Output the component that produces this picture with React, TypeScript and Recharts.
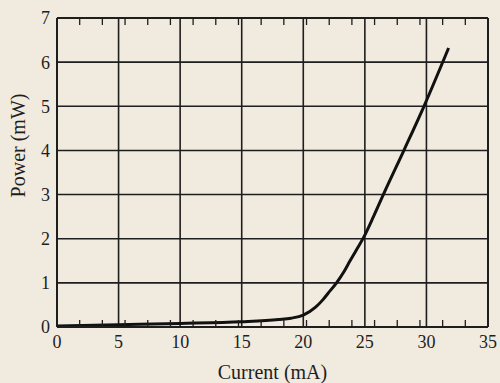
import { LineChart, Line, XAxis, YAxis, CartesianGrid, Label } from 'recharts';

const currentMA = [0, 5, 10, 15, 18, 19, 20, 21, 21.6, 22, 22.7, 23.3, 23.8, 24.3, 24.9, 25.7, 26.5, 28.2, 29.8, 31.8];
const powerMW = [0.02, 0.05, 0.08, 0.12, 0.17, 0.2, 0.27, 0.45, 0.62, 0.76, 1.0, 1.25, 1.5, 1.74, 2.03, 2.5, 3.0, 4.02, 5.0, 6.32];

const xMajor = [0, 5, 10, 15, 20, 25, 30, 35];
const yMajor = [0, 1, 2, 3, 4, 5, 6, 7];
const xMinor = Array.from({ length: 36 }, (_, i) => i);
const yMinor = Array.from({ length: 29 }, (_, i) => i * 0.25);

const data = currentMA.map((c, i) => ({ c, p: powerMW[i] }));

const ink = '#1e1e1e';
const font = '"Liberation Serif", "DejaVu Serif", serif';
const blank = () => '';

export default function App() {
  return (
    <div style={{ position: 'fixed', left: 0, top: 0, width: 500, height: 383, background: '#f0eadf' }}>
      <LineChart width={500} height={383} data={data} margin={{ top: 18, right: 12, bottom: 0, left: 0 }}>
        <CartesianGrid xAxisId="main" yAxisId="main" stroke={ink} strokeWidth={1.6} />
        <XAxis xAxisId="main" dataKey="c" type="number" domain={[0, 35]} ticks={xMajor} height={56}
          tickSize={0} tickMargin={8} axisLine={{ stroke: ink, strokeWidth: 2 }}
          tick={{ fill: ink, fontSize: 18, fontFamily: font }}>
          <Label value="Current (mA)" position="insideBottom" offset={4} style={{ fill: ink, fontSize: 20, fontFamily: font }} />
        </XAxis>
        <XAxis xAxisId="minorB" type="number" domain={[0, 35]} ticks={xMinor} mirror orientation="bottom"
          tickSize={7} tickFormatter={blank} axisLine={false} tickLine={{ stroke: ink, strokeWidth: 1.3 }} />
        <XAxis xAxisId="minorT" type="number" domain={[0, 35]} ticks={xMinor} mirror orientation="top"
          tickSize={7} tickFormatter={blank} axisLine={{ stroke: ink, strokeWidth: 2 }} tickLine={{ stroke: ink, strokeWidth: 1.3 }} />
        <YAxis yAxisId="main" type="number" domain={[0, 7]} ticks={yMajor} width={57}
          tickSize={0} tickMargin={7} axisLine={{ stroke: ink, strokeWidth: 2 }}
          tick={{ fill: ink, fontSize: 18, fontFamily: font }}>
          <Label content={({ viewBox }: any) => {
            const x = viewBox.x + 18;
            const y = viewBox.y + viewBox.height / 2 - 27;
            return (
              <text x={x} y={y} transform={`rotate(-90 ${x} ${y})`} textAnchor="middle" dominantBaseline="central"
                style={{ fill: ink, fontSize: 20, fontFamily: font }}>Power (mW)</text>
            );
          }} />
        </YAxis>
        <YAxis yAxisId="minorL" type="number" domain={[0, 7]} ticks={yMinor} mirror orientation="left"
          tickSize={7} tickFormatter={blank} axisLine={false} tickLine={{ stroke: ink, strokeWidth: 1.3 }} />
        <YAxis yAxisId="minorR" type="number" domain={[0, 7]} ticks={yMinor} mirror orientation="right"
          tickSize={7} tickFormatter={blank} axisLine={{ stroke: ink, strokeWidth: 2 }} tickLine={{ stroke: ink, strokeWidth: 1.3 }} />
        <Line xAxisId="main" yAxisId="main" dataKey="p" type="monotone" stroke="#111" strokeWidth={3}
          dot={false} isAnimationActive={false} />
      </LineChart>
    </div>
  );
}
